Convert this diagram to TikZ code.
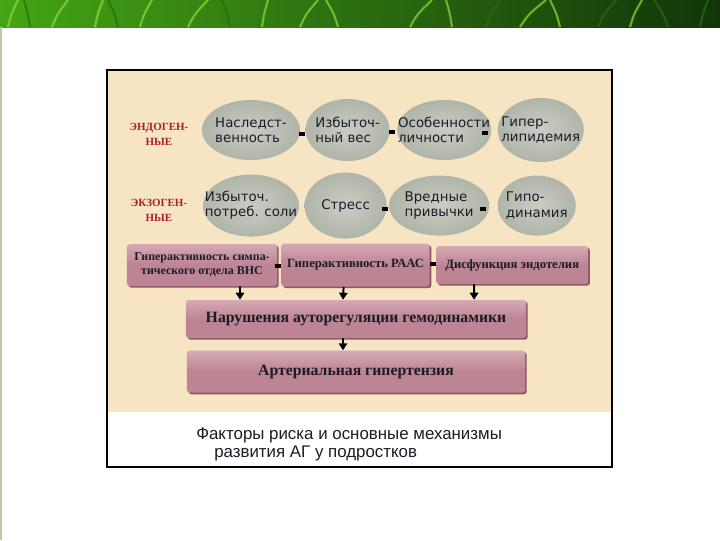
\documentclass[tikz,border=0pt]{standalone}
\usepackage{fontspec}
\setmainfont{Liberation Serif}
\newfontfamily\ovalfont{DejaVu Sans}
\newfontfamily\capfont{Liberation Sans}
\usepackage{tikz}
\usetikzlibrary{arrows.meta,positioning,shapes.geometric,shadows}
\usepackage{xcolor}
\definecolor{paper}{HTML}{F7E4C2}
\definecolor{ovallight}{HTML}{C9CCC2}
\definecolor{ovaldark}{HTML}{B0B5AA}
\definecolor{inktext}{HTML}{1C1C28}
\definecolor{grptext}{HTML}{A8202A}
\definecolor{bartop}{HTML}{D6A9B4}
\definecolor{barmid}{HTML}{BD8494}
\definecolor{bardark}{HTML}{8C5867}
\definecolor{grassA}{HTML}{45A516}
\definecolor{grassB}{HTML}{5E9A1C}
\definecolor{grassC}{HTML}{12340A}
\definecolor{grassHi}{HTML}{8EDC3C}
\definecolor{grassLo}{HTML}{2A6A0E}
\definecolor{sidebar}{HTML}{B9CAA6}

\begin{document}
\begin{tikzpicture}[x=0.025cm,y=-0.025cm,>={Triangle[width=6pt,length=5pt]}, every node/.style={inner sep=0pt}]
\tikzstyle{oval}=[ellipse, draw=none, shading=radial, inner color=ovallight, outer color=ovaldark]
\tikzstyle{ovaltext}=[align=left, text=inktext, font=\ovalfont\fontsize{9.5}{10.8}\selectfont]
\tikzstyle{grp}=[align=center, text=grptext, font=\bfseries\fontsize{7.8}{10.6}\selectfont]
\tikzstyle{bit}=[fill=black, minimum width=1.6mm, minimum height=0.8mm]
\tikzstyle{bar}=[rounded corners=2pt, top color=bartop, bottom color=barmid, middle color=barmid, align=center, text=inktext,
  drop shadow={shadow xshift=1.2pt, shadow yshift=-1.2pt, fill=bardark, opacity=1}]
\tikzstyle{blade}=[line width=1.5pt, opacity=0.7]
\useasboundingbox (0,0) rectangle (720,540);
\fill[white] (0,0) rectangle (720,540);
% grass strip
\shade[left color=grassA, middle color=grassB, right color=grassC] (0,0) rectangle (720,27);
\foreach \x/\d/\c in {8/10/grassHi,30/-6/grassLo,52/16/grassHi,95/8/grassHi,118/-10/grassLo,140/12/grassHi,188/20/grassHi,
  230/-8/grassLo,262/6/grassHi,300/18/grassHi,338/-12/grassHi,372/10/grassLo,410/22/grassHi,452/-6/grassHi,
  486/14/grassLo,520/26/grassHi,560/-10/grassHi,598/18/grassLo,630/12/grassHi,668/-14/grassLo,700/8/grassLo}
  \draw[blade, draw=\c] (\x,27) .. controls (\x+\d/3,14) .. (\x+\d,0);
\draw[sidebar, line width=1.5pt] (1,27) -- (1,540);
% frame
\fill[paper] (107,70) rectangle (612,412);
\draw[line width=0.8pt] (107,70) rectangle (612,467);
% risk factors
\node[grp] (endo) at (159,134) {ЭНДОГЕН-\\НЫЕ};
\node[grp] (exo) at (159,210) {ЭКЗОГЕН-\\НЫЕ};
\node[oval, minimum width=24.5mm, minimum height=15mm, label={[ovaltext]center:Наследст-\\венность}] (her) at (251,130) {};
\node[oval, minimum width=21mm, minimum height=15.5mm, right=1.25mm of her, label={[ovaltext]center:Избыточ-\\ный вес}] (wt) {};
\node[oval, minimum width=23.5mm, minimum height=15mm, right=1.75mm of wt, label={[ovaltext]center:Особенности\\личности}] (pers) {};
\node[oval, minimum width=21.5mm, minimum height=16mm, right=1.5mm of pers, label={[ovaltext]center:Гипер-\\липидемия}] (lip) {};
\node[oval, minimum width=24mm, minimum height=15.5mm, below=3.5mm of her, label={[ovaltext]center:Избыточ.\\потреб. соли}] (salt) {};
\node[oval, minimum width=20.5mm, minimum height=16.5mm, right=1.25mm of salt, label={[ovaltext]center:Стресс}] (str) {};
\node[oval, minimum width=25mm, minimum height=15mm, right=0.5mm of str, label={[ovaltext]center:Вредные\\привычки}] (hab) {};
\node[oval, minimum width=19.5mm, minimum height=15mm, right=2mm of hab, label={[ovaltext]center:Гипо-\\динамия}] (hyp) {};
% mechanisms
\node[bar, minimum width=37.5mm, minimum height=10.5mm, font=\bfseries\fontsize{8.5}{10}\selectfont] (sym) at (202,265) {Гиперактивность симпа-\\тического отдела ВНС};
\node[bar, minimum width=37mm, minimum height=10.75mm, right=1mm of sym, font=\bfseries\fontsize{9}{10}\selectfont] (raas) {Гиперактивность РААС};
\node[bar, minimum width=38mm, minimum height=9.5mm, right=1.5mm of raas, font=\bfseries\fontsize{9}{10}\selectfont] (endot) {Дисфункция эндотелия};
\node[bar, minimum width=85mm, minimum height=9.5mm, font=\bfseries\fontsize{11.2}{13}\selectfont] (auto) at (356,319) {Нарушения ауторегуляции гемодинамики};
\node[bar, minimum width=84.5mm, minimum height=10.5mm, below=3mm of auto, font=\bfseries\fontsize{11.2}{13}\selectfont] (ag) {Артериальная гипертензия};
\foreach \p [count=\i] in {(302,134),(392,132),(485,133),(385,209),(483,209),(278,266),(433,264)}
  \node[bit] (bit\i) at \p {};
\draw[->, line width=1.4pt] ([xshift=9.5mm]sym.south) -- ([xshift=-29mm]auto.north);
\draw[->, line width=1.4pt] ([xshift=-3mm]raas.south) -- ([xshift=-3.25mm]auto.north);
\draw[->, line width=1.4pt] ([xshift=-9.5mm]endot.south) -- ([xshift=29.5mm]auto.north);
\draw[->, line width=1.4pt] ([xshift=-3.25mm]auto.south) -- ([xshift=-3.25mm]ag.north);
% caption
\node[anchor=west, text=inktext, font=\capfont\fontsize{12}{14}\selectfont] (cap1) at (196,435) {Факторы риска и основные механизмы};
\node[anchor=west, text=inktext, font=\capfont\fontsize{12}{14}\selectfont] (cap2) at (214,453) {развития АГ у подростков};
\end{tikzpicture}
\end{document}
